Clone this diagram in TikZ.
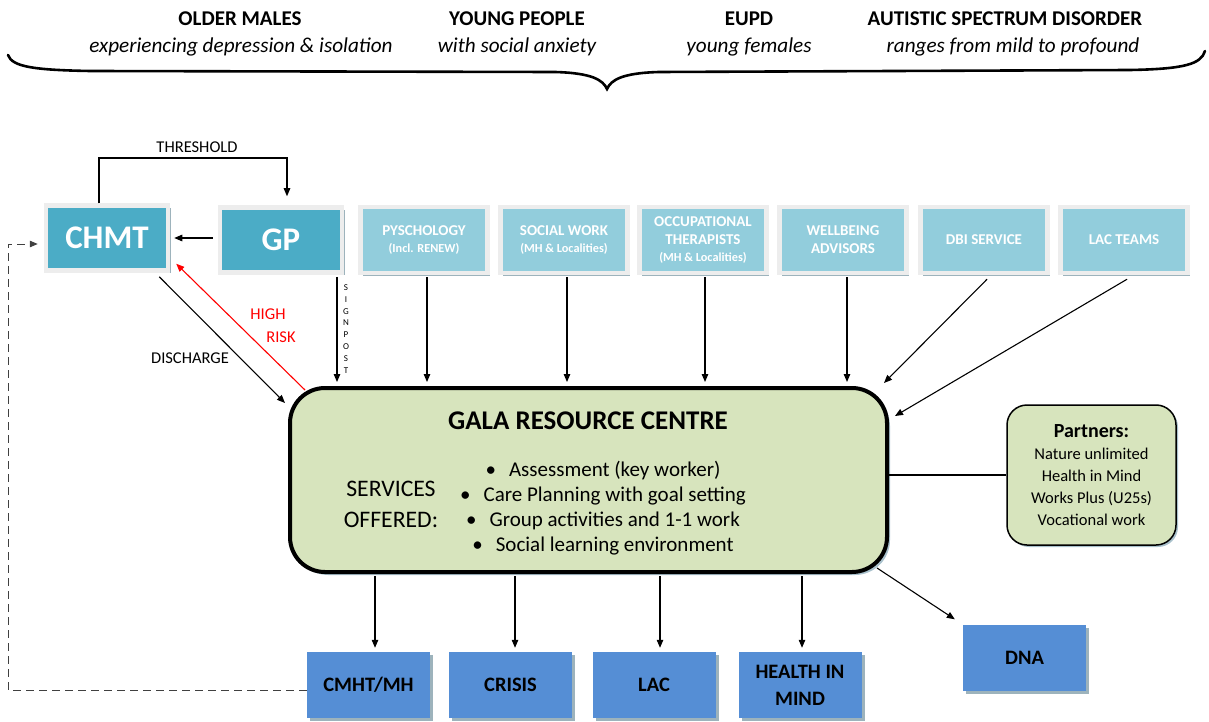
\documentclass[tikz,border=0pt]{standalone}
\usepackage{fontspec}
\setmainfont{Carlito}
\usetikzlibrary{arrows.meta,shadows,calc}
\definecolor{teal1}{HTML}{4BACC6}
\definecolor{lblue}{HTML}{92CDDC}
\definecolor{frameg}{HTML}{EDEDED}
\definecolor{shd}{HTML}{9DB3BC}
\definecolor{shdl}{HTML}{A9C1CC}
\definecolor{dblue}{HTML}{558ED5}
\definecolor{galafill}{HTML}{D7E4BD}
\definecolor{red1}{HTML}{FF0000}
\definecolor{dashg}{HTML}{404040}
\newcommand\setfs[2]{\fontsize{#1}{#2}\selectfont}
\tikzset{
  topbox/.style={draw=frameg, line width=4.5pt, minimum width=122pt, minimum height=65pt,
    inner sep=0pt, text=white, font=\bfseries\setfs{33}{38}, fill=teal1,
    drop shadow={shadow xshift=2.5pt, shadow yshift=-2.5pt, fill=shd, opacity=1}},
  svcbox/.style={topbox, fill=lblue, minimum width=127pt, minimum height=66pt,
    font=\bfseries\setfs{15}{18}, align=center},
  outbox/.style={fill=dblue, minimum width=123pt, minimum height=66pt, inner sep=0pt,
    font=\bfseries\setfs{20.5}{27}, align=center,
    drop shadow={shadow xshift=3pt, shadow yshift=-3pt, fill=shd, opacity=1}},
  conn/.style={line width=1.1pt, -{Triangle[length=8pt,width=6.5pt]}},
  lbl/.style={font=\setfs{16.5}{19}, inner sep=0pt},
  headb/.style={font=\bfseries\setfs{21}{24}, inner sep=0pt},
  headi/.style={font=\itshape\setfs{21.2}{24}, inner sep=0pt}
}
\newcommand\sub[1]{{\setfs{12.3}{14}#1}}
\begin{document}
\begin{tikzpicture}[x=1pt,y=-1pt]
\useasboundingbox (0,0) rectangle (1209,722);

% heading texts
\node[headb] (h1) at (240,19) {OLDER MALES};
\node[headi] (h1i) at (241,47) {experiencing depression \& isolation};
\node[headb] (h2) at (517,19) {YOUNG PEOPLE};
\node[headi] (h2i) at (517,47) {with social anxiety};
\node[headb] (h3) at (749,19) {EUPD};
\node[headi] (h3i) at (749,47) {young females};
\node[headb] (h4) at (1005,19) {AUTISTIC SPECTRUM DISORDER};
\node[headi] (h4i) at (1013,47) {ranges from mild to profound};

% brace
\draw[line width=2.6pt, line cap=round]
  (8,55) .. controls (12,67) and (35,70) .. (90,71) -- (555,72)
  .. controls (592,73) and (603,80) .. (607,89)
  .. controls (611,80) and (622,73) .. (659,72) -- (1130,70)
  .. controls (1185,69) and (1201,64) .. (1205,51);

% top boxes
\node[topbox] (chmt) at (107,238) {CHMT};
\node[topbox] (gp) at (281,240) {GP};
\node[svcbox] (psy) at (424,240) {PYSCHOLOGY\\[-1pt]\sub{(Incl. RENEW)}};
\node[svcbox] (sw) at (564,240) {SOCIAL WORK\\[-1pt]\sub{(MH \& Localities)}};
\node[svcbox] (ot) at (703,240) {OCCUPATIONAL\\THERAPISTS\\[-1pt]\sub{(MH \& Localities)}};
\node[svcbox] (wb) at (843,240) {WELLBEING\\ADVISORS};
\node[svcbox] (dbi) at (984,240) {DBI SERVICE};
\node[svcbox] (lac) at (1124,240) {LAC TEAMS};

% Gala
\node[draw=black, line width=4pt, rounded corners=35pt, fill=galafill,
  minimum width=597pt, minimum height=184pt,
  drop shadow={shadow xshift=3pt, shadow yshift=-3pt, fill=shdl, opacity=1}] (gala) at (588.5,480) {};
\node[font=\bfseries\setfs{27}{32}, inner sep=0pt] (galat) at (588,421) {GALA RESOURCE CENTRE};
\node[font=\setfs{23.7}{31}, align=center, inner sep=0pt] (serv) at (391,504) {SERVICES\\OFFERED:};
\node[font=\setfs{21}{25}, align=center, inner sep=0pt] (list) at (603,508)
  {\textbullet\hspace{13pt}Assessment (key worker)\\
   \textbullet\hspace{13pt}Care Planning with goal setting\\
   \textbullet\hspace{13pt}Group activities and 1-1 work\\
   \textbullet\hspace{13pt}Social learning environment};

% partners
\node[draw=black, line width=1.5pt, rounded corners=20pt, fill=galafill,
  minimum width=169pt, minimum height=140pt, align=center, inner sep=0pt,
  font=\setfs{16.5}{22},
  drop shadow={shadow xshift=2pt, shadow yshift=-2pt, fill=shdl, opacity=1}] (part) at (1091.5,475)
  {{\bfseries\setfs{20}{22}Partners:}\\Nature unlimited\\Health in Mind\\Works Plus (U25s)\\Vocational work};

% bottom boxes
\node[outbox] (mh) at (368.5,685) {CMHT/MH};
\node[outbox] (cr) at (510.5,685) {CRISIS};
\node[outbox] (lacb) at (654,685) {LAC};
\node[outbox] (him) at (800,685) {HEALTH IN\\MIND};
\node[outbox] (dna) at (1024.5,657.5) {DNA};

% labels
\node[lbl] (thr) at (197,147) {THRESHOLD};
\node[lbl] (dis) at (190,358) {DISCHARGE};
\node[lbl, text=red1] (hi) at (268,314) {HIGH};
\node[lbl, text=red1] (rk) at (281,337) {RISK};
\node[font=\setfs{9}{11.85}, align=center, inner sep=0pt] (sp) at (346,329) {S\\I\\G\\N\\P\\O\\S\\T};

% connectors top
\coordinate (thc) at (193,158);
\draw[conn, shorten >=9pt] ([xshift=-8pt]chmt.north) |- (thc) -| ([xshift=6pt]gp.north);
\draw[conn, shorten <=5pt, shorten >=4pt] (chmt.east -| gp.west) -- (chmt.east);
\draw[conn] ([shift={(-11,4)}]chmt.south east) -- ([shift={(-3,17)}]gala.north west);
\draw[conn, red1] ([shift={(17,4)}]gala.north west) -- ([shift={(6,-9)}]chmt.south east);

\coordinate (xs) at (337,0);
\coordinate (x1) at (427,0);
\coordinate (x2) at (567,0);
\coordinate (x3) at (705,0);
\coordinate (x4) at (847,0);
\draw[conn, shorten <=2pt, shorten >=4pt] (xs |- gp.south) -- (xs |- gala.north);
\draw[conn, shorten <=2pt, shorten >=4pt] (x1 |- psy.south) -- (x1 |- gala.north);
\draw[conn, shorten <=2pt, shorten >=4pt] (x2 |- sw.south) -- (x2 |- gala.north);
\draw[conn, shorten <=2pt, shorten >=4pt] (x3 |- ot.south) -- (x3 |- gala.north);
\draw[conn, shorten <=2pt, shorten >=4pt] (x4 |- wb.south) -- (x4 |- gala.north);
\draw[conn] ([shift={(3,4)}]dbi.south) -- ([shift={(-5,-3)}]gala.north east);
\draw[conn] ([shift={(3,4)}]lac.south) -- ([shift={(6,30)}]gala.north east);

% partners link
\draw[line width=1.1pt] (part.west -| gala.east) -- (part.west);

% bottom connectors
\coordinate (b1) at (375,0);
\coordinate (b2) at (515,0);
\coordinate (b3) at (660,0);
\coordinate (b4) at (802,0);
\draw[conn, shorten <=2pt, shorten >=4pt] (b1 |- gala.south) -- (b1 |- mh.north);
\draw[conn, shorten <=2pt, shorten >=4pt] (b2 |- gala.south) -- (b2 |- cr.north);
\draw[conn, shorten <=2pt, shorten >=4pt] (b3 |- gala.south) -- (b3 |- lacb.north);
\draw[conn, shorten <=2pt, shorten >=4pt] (b4 |- gala.south) -- (b4 |- him.north);
\draw[conn] ([shift={(-12,-6)}]gala.south east) -- ([shift={(-8,-5)}]dna.north west);

% dashed return
\coordinate (dB) at (8,244);
\draw[line width=1pt, dashg, dash pattern=on 8pt off 5pt, -{Triangle[length=8pt,width=6.5pt]}, shorten >=6pt]
  ([shift={(0,5)}]mh.west) -| (dB) -- (dB -| chmt.west);
\end{tikzpicture}
\end{document}
